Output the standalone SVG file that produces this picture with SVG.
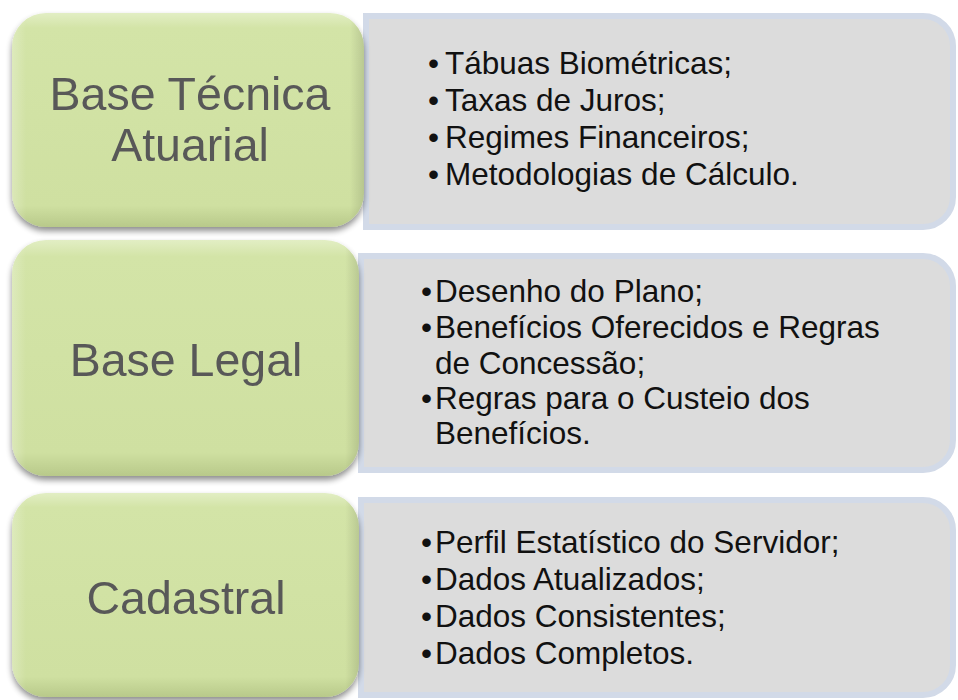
<svg xmlns="http://www.w3.org/2000/svg" width="958" height="700" viewBox="0 0 958 700">
  <defs>
    <linearGradient id="greenGrad" x1="0" y1="0" x2="0" y2="1">
      <stop offset="0" stop-color="#e2eec4"/>
      <stop offset="0.07" stop-color="#d3e4a7"/>
      <stop offset="0.9" stop-color="#cfe0a1"/>
      <stop offset="1" stop-color="#b8c98a"/>
    </linearGradient>
    <linearGradient id="greenSide" x1="0" y1="0" x2="1" y2="0">
      <stop offset="0" stop-color="#ffffff" stop-opacity="0.25"/>
      <stop offset="0.04" stop-color="#ffffff" stop-opacity="0"/>
      <stop offset="0.96" stop-color="#000000" stop-opacity="0"/>
      <stop offset="1" stop-color="#000000" stop-opacity="0.12"/>
    </linearGradient>
    <filter id="shadow" x="-5%" y="-5%" width="110%" height="115%">
      <feGaussianBlur in="SourceAlpha" stdDeviation="3"/>
      <feOffset dx="0" dy="4" result="b"/>
      <feComponentTransfer><feFuncA type="linear" slope="0.45"/></feComponentTransfer>
      <feMerge><feMergeNode/><feMergeNode in="SourceGraphic"/></feMerge>
    </filter>
  </defs>
  <style>
    .green { fill: url(#greenGrad); }
    .gside { fill: url(#greenSide); }
    .gray { fill: #dcdcdc; stroke: #d2dae8; stroke-width: 6; }
    .title { font-family: "Liberation Sans", Arial, sans-serif; font-size: 46.5px; fill: #595959; text-anchor: middle; }
    .item { font-family: "Liberation Sans", Arial, sans-serif; font-size: 31.5px; fill: #111111; }
  </style>
  <rect width="958" height="700" fill="#ffffff"/>

  <g id="connectors"/>

  <!-- Row 1 -->
  <g id="detail-1">
    <path class="gray" d="M366,16 H923 A30,30 0 0 1 953,46 V197 A30,30 0 0 1 923,227 H366 Z"/>
    <text class="item" x="428" y="74">•</text>
    <text class="item" x="445" y="74">Tábuas Biométricas;</text>
    <text class="item" x="428" y="111">•</text>
    <text class="item" x="445" y="111">Taxas de Juros;</text>
    <text class="item" x="428" y="148">•</text>
    <text class="item" x="445" y="148">Regimes Financeiros;</text>
    <text class="item" x="428" y="185">•</text>
    <text class="item" x="445" y="185">Metodologias de Cálculo.</text>
  </g>
  <g id="node-1" filter="url(#shadow)">
    <rect class="green" x="12" y="13" width="352" height="214" rx="34" ry="34"/>
    <rect class="gside" x="12" y="13" width="352" height="214" rx="34" ry="34"/>
    <text class="title" x="190" y="110">Base Técnica</text>
    <text class="title" x="190" y="161">Atuarial</text>
  </g>

  <!-- Row 2 -->
  <g id="detail-2">
    <path class="gray" d="M361,256 H923 A30,30 0 0 1 953,286 V440 A30,30 0 0 1 923,470 H361 Z"/>
    <text class="item" x="421" y="302">•</text>
    <text class="item" x="435" y="302">Desenho do Plano;</text>
    <text class="item" x="421" y="338">•</text>
    <text class="item" x="435" y="338">Benefícios Oferecidos e Regras</text>
    <text class="item" x="435" y="374">de Concessão;</text>
    <text class="item" x="421" y="409">•</text>
    <text class="item" x="435" y="409">Regras para o Custeio dos</text>
    <text class="item" x="435" y="444">Benefícios.</text>
  </g>
  <g id="node-2" filter="url(#shadow)">
    <rect class="green" x="12" y="240" width="347" height="236" rx="34" ry="34"/>
    <rect class="gside" x="12" y="240" width="347" height="236" rx="34" ry="34"/>
    <text class="title" x="186" y="376">Base Legal</text>
  </g>

  <!-- Row 3 -->
  <g id="detail-3">
    <path class="gray" d="M361,500 H923 A30,30 0 0 1 953,530 V665 A30,30 0 0 1 923,695 H361 Z"/>
    <text class="item" x="421" y="553">•</text>
    <text class="item" x="435" y="553">Perfil Estatístico do Servidor;</text>
    <text class="item" x="421" y="590">•</text>
    <text class="item" x="435" y="590">Dados Atualizados;</text>
    <text class="item" x="421" y="627">•</text>
    <text class="item" x="435" y="627">Dados Consistentes;</text>
    <text class="item" x="421" y="664">•</text>
    <text class="item" x="435" y="664">Dados Completos.</text>
  </g>
  <g id="node-3" filter="url(#shadow)">
    <rect class="green" x="12" y="493" width="347" height="204" rx="34" ry="34"/>
    <rect class="gside" x="12" y="493" width="347" height="204" rx="34" ry="34"/>
    <text class="title" x="186" y="614">Cadastral</text>
  </g>
</svg>
